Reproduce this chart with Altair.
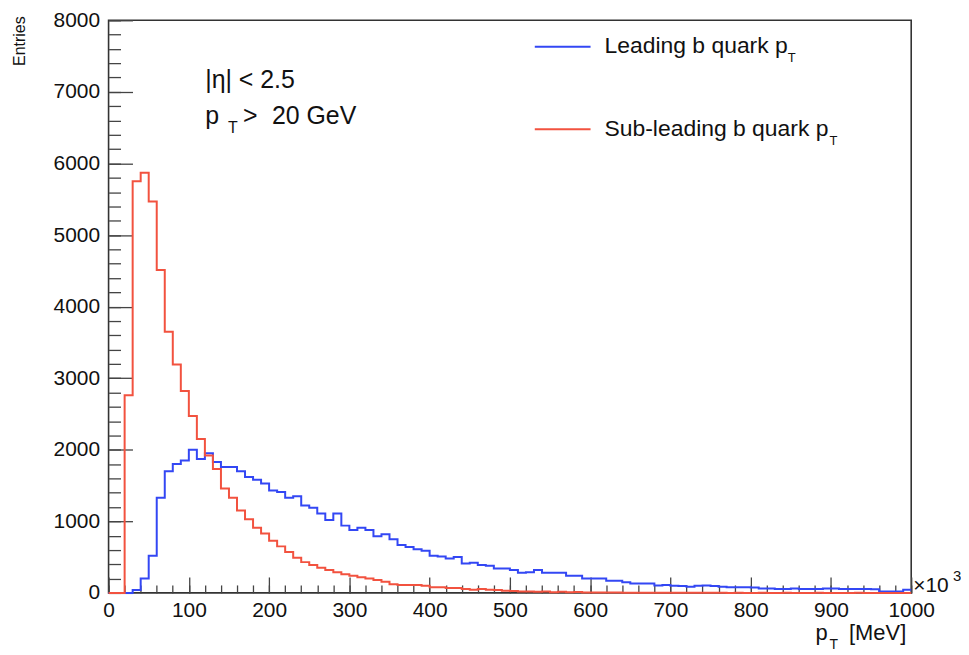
import altair as alt
import pandas as pd

# ---------------- data ----------------
bin_edges = list(range(0, 1000, 10))  # pT bins in units of 10^3 MeV

leading = [
    0, 0, 0, 40, 200, 520, 1330, 1700, 1800, 1850,
    2000, 1870, 1950, 1830, 1760, 1760, 1700, 1620, 1580, 1530,
    1430, 1410, 1330, 1350, 1220, 1190, 1110, 1020, 1110, 940,
    880, 910, 880, 790, 820, 750, 670, 640, 610, 590,
    520, 510, 480, 500, 410, 420, 390, 380, 340, 340,
    320, 280, 290, 320, 280, 280, 280, 240, 240, 200,
    200, 200, 170, 170, 150, 130, 130, 130, 105, 110,
    100, 95, 85, 100, 105, 95, 85, 80, 80, 80,
    75, 60, 60, 55, 55, 60, 55, 55, 55, 60,
    60, 55, 55, 55, 55, 50, 20, 20, 20, 45,
]

subleading = [
    0, 0, 2760, 5750, 5870, 5470, 4510, 3650, 3190, 2820,
    2470, 2150, 1920, 1730, 1460, 1330, 1150, 1030, 910, 830,
    730, 650, 570, 490, 430, 390, 350, 320, 290, 260,
    240, 220, 200, 180, 155, 120, 110, 110, 110, 100,
    80, 80, 70, 70, 55, 45, 55, 45, 40, 30,
    25, 20, 20, 15, 20, 8, 15, 8, 12, 5,
    6, 5, 4, 4, 3, 3, 2, 2, 2, 2,
    1, 2, 1, 1, 1, 1, 1, 0, 1, 0,
    0, 1, 0, 0, 1, 0, 0, 0, 1, 0,
    0, 0, 0, 1, 0, 0, 0, 0, 0, 0,
]

x_major = list(range(0, 1001, 100))
x_minor = list(range(0, 1001, 20))
y_major = list(range(0, 8001, 1000))
y_minor = list(range(0, 8001, 200))

legend_labels = ["Leading b quark p", "Sub-leading b quark p"]
cut_labels = ["|\u03b7| < 2.5", "p", ">", "20 GeV"]


def hist_frame(values):
    return pd.DataFrame({"pt": bin_edges + [1000], "n": values + [values[-1]]})


df_lead = hist_frame(leading)
df_sub = hist_frame(subleading)

# ---------------- style ----------------
FONT = "Liberation Sans"
BLUE = "#3347f4"
RED = "#f2523f"
TICK = "#444444"
W, H = 806, 575

xs = alt.Scale(domain=[0, 1000], nice=False, zero=False)
ys = alt.Scale(domain=[0, 8000], nice=False)

lab_axis = dict(domain=False, grid=False, title=None, labelFont=FONT,
                labelFontSize=21, labelColor="#111111", tickColor=TICK,
                tickWidth=1.3, labelFlush=False, labelOverlap=False, format="d")
tick_axis = dict(domain=False, grid=False, title=None, labels=False,
                 tickColor=TICK, tickWidth=1.3)

blue = alt.Chart(df_lead).mark_line(
    interpolate="step-after", color=BLUE, strokeWidth=2
).encode(
    x=alt.X("pt:Q", scale=xs, axis=alt.Axis(orient="bottom", values=x_major,
                                             offset=-16, tickSize=16,
                                             labelPadding=7, **lab_axis)),
    y=alt.Y("n:Q", scale=ys, axis=alt.Axis(orient="left", values=y_major,
                                            offset=-24, tickSize=24,
                                            labelPadding=9, **lab_axis)),
)

red = alt.Chart(df_sub).mark_line(
    interpolate="step-after", color=RED, strokeWidth=2
).encode(
    x=alt.X("pt:Q", scale=xs, axis=alt.Axis(orient="bottom", values=x_minor,
                                             offset=-8, tickSize=8, **tick_axis)),
    y=alt.Y("n:Q", scale=ys, axis=alt.Axis(orient="left", values=y_minor,
                                            offset=-12, tickSize=12, **tick_axis)),
)


def label(text, x, y, size, align="left", baseline="alphabetic", angle=0,
          color="#111111"):
    return alt.Chart(pd.DataFrame({"t": [text]})).mark_text(
        align=align, baseline=baseline, fontSize=size, font=FONT,
        angle=angle, color=color
    ).encode(x=alt.value(x), y=alt.value(y), text="t:N")


def key_line(color, y):
    return alt.Chart(pd.DataFrame({"k": [0]})).mark_rule(
        color=color, strokeWidth=2
    ).encode(x=alt.value(428), x2=alt.value(484), y=alt.value(y))


layers = [
    blue, red,
    # legend
    key_line(BLUE, 26.5), key_line(RED, 109.5),
    label(legend_labels[0], 498, 33, 23),
    label("T", 682, 42, 13),
    label(legend_labels[1], 498, 116, 23),
    label("T", 724, 125, 13),
    # cut annotations
    label(cut_labels[0], 97, 68, 25),
    label(cut_labels[1], 97, 104, 25),
    label("T", 120, 113, 16),
    label(cut_labels[2], 135, 104, 25),
    label(cut_labels[3], 164, 104, 25),
    # axis titles and multiplier
    label("Entries", -89, -4, 16, align="right", baseline="middle", angle=270),
    label("p", 710, 622, 22),
    label("T", 724, 631, 14),
    label("[MeV]", 801, 622, 22, align="right"),
    label("\u00d710", 808, 574, 21),
    label("3", 848, 563, 15),
]

chart = alt.layer(*layers).resolve_axis(
    x="independent", y="independent"
).properties(
    width=W, height=H,
    padding={"left": 101, "top": 11, "right": 50, "bottom": 60},
    autosize=alt.AutoSizeParams(type="none"),
    background="white",
).configure_view(stroke="#333333", strokeWidth=1.6)

chart.save("out.html", embed_options={"renderer": "svg", "actions": False})
